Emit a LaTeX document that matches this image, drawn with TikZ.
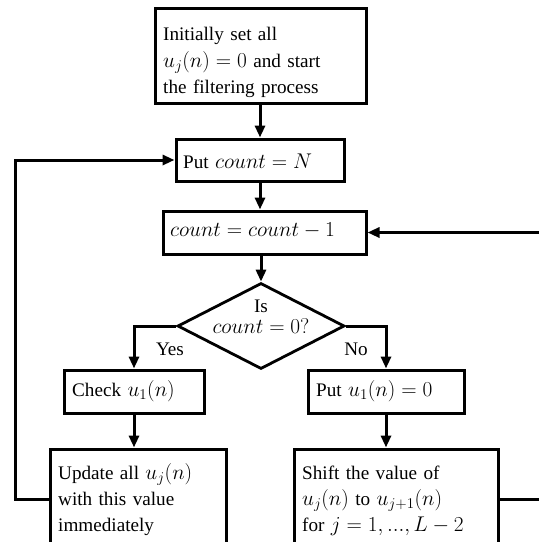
\RequirePackage{fix-cm}
\documentclass[tikz,border=0pt]{standalone}
\usepackage[no-math]{fontspec}
\setmainfont{Liberation Serif}[Scale=0.9]
\usetikzlibrary{arrows.meta,shapes.geometric}
\tikzset{
  box/.style={draw, line width=3pt, inner sep=0pt, rectangle},
  dia/.style={draw, line width=2.8pt, inner sep=0pt, diamond},
  txt/.style={inner sep=0pt, font=\fontsize{21.3}{26.3}\selectfont, align=left, text width=#1, anchor=base west},
  txt/.default=200pt,
  lbl/.style={inner sep=0pt, font=\fontsize{21.3}{21}\selectfont, anchor=base},
  arr/.style={line width=3pt, -{Triangle[length=12pt,width=10pt]}},
}
\begin{document}
\begin{tikzpicture}[x=1pt,y=-1pt]
\useasboundingbox (0,0) rectangle (539,542);
\clip (0,0) rectangle (539,542);
% boxes
\node[box, minimum width=211pt, minimum height=95pt] (init) at (260.5,55.5) {};
\node[box, minimum width=168pt, minimum height=42pt] (put) at (260,160) {};
\node[box, minimum width=203pt, minimum height=43pt] (cnt) at (264.5,232.5) {};
\node[dia, minimum width=167pt, minimum height=86pt] (dec) at (261,326) {};
\node[box, minimum width=140pt, minimum height=43pt] (check) at (134,391.5) {};
\node[box, minimum width=156pt, minimum height=43pt] (putu) at (386,391.5) {};
\node[box, minimum width=176pt, minimum height=100pt] (upd) at (138,499) {};
\node[box, minimum width=204pt, minimum height=100pt] (shift) at (396,499) {};
% texts
\node[txt=205pt] (initT) at (163,40.7) {Initially set all\\$u_j(n)=0$ and start\\the filtering process};
\node[txt] (putT) at (183,168) {Put $count=N$};
\node[txt] (cntT) at (170,236.5) {$count=count-1$};
\node[lbl, align=flush center, text width=140pt] (decT) at (261,312) {Is\\$count=0?$};
\node[lbl] (yes) at (170,355) {Yes};
\node[lbl] (no) at (356,355) {No};
\node[txt] (checkT) at (72,396) {Check $u_1(n)$};
\node[txt] (putuT) at (316,396) {Put $u_1(n)=0$};
\node[txt=170pt] (updT) at (58,479) {Update all $u_j(n)$\\with this value\\immediately};
\node[txt=200pt] (shiftT) at (302,479) {Shift the value of\\$u_j(n)$ to $u_{j+1}(n)$\\for $j=1,...,L-2$};
% connectors
\coordinate (lx) at (15,0);
\coordinate (rx) at (548,0);
\draw[arr] (init.south -| put.north) -- (put.north);
\draw[arr] (put.south) -- (put.south |- cnt.north);
\draw[arr] (dec.north |- cnt.south) -- (dec.north);
\draw[arr] (dec.west) -| (check.north);
\draw[arr] (dec.east) -| (putu.north);
\draw[arr] (check.south) -- (check.south |- upd.north);
\draw[arr] (putu.south) -- (putu.south |- shift.north);
\draw[arr] (upd.west) -| (lx |- put.west) -- (put.west);
\draw[arr] (shift.east) -| (rx |- cnt.east) -- (cnt.east);
\end{tikzpicture}
\end{document}
